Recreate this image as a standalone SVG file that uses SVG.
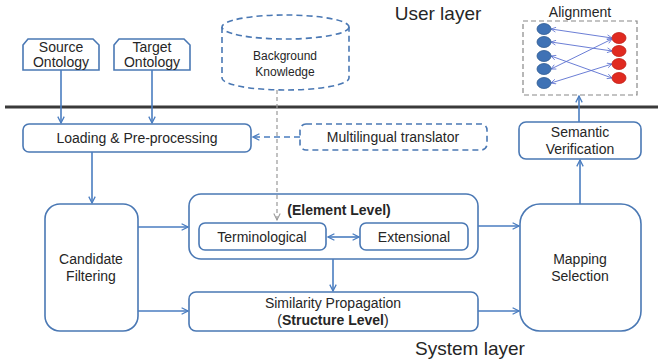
<svg xmlns="http://www.w3.org/2000/svg" width="658" height="361" viewBox="0 0 658 361">
<defs>
<style>
.box{fill:#fff;stroke:#4a78b4;stroke-width:1.6}
.dbox{fill:#fff;stroke:#4a78b4;stroke-width:1.6;stroke-dasharray:6 4}
.t{font-family:"Liberation Sans",Arial,sans-serif;font-size:14px;fill:#262626;text-anchor:middle}
.s{font-size:12px}
.b{font-weight:bold}
.big{font-size:19px}
.c{fill:none;stroke:#4a7dc0;stroke-width:1.6}
.cd{fill:none;stroke:#4a7dc0;stroke-width:1.6;stroke-dasharray:6 4}
.g{fill:none;stroke:#999;stroke-width:1.2;stroke-dasharray:4 3}
.al{fill:none;stroke:#5a6fd0;stroke-width:0.9}
</style>
<marker id="a" viewBox="0 0 10 10" refX="9" refY="5" markerWidth="8" markerHeight="8" orient="auto-start-reverse" markerUnits="userSpaceOnUse">
<polyline points="1,1 9,5 1,9" fill="none" stroke="#4a7dc0" stroke-width="1.6"/>
</marker>
<marker id="ag" viewBox="0 0 10 10" refX="9" refY="5" markerWidth="8" markerHeight="8" orient="auto" markerUnits="userSpaceOnUse">
<polyline points="1,1 9,5 1,9" fill="none" stroke="#999" stroke-width="1.3"/>
</marker>
<marker id="as" viewBox="0 0 10 10" refX="9" refY="5" markerWidth="6" markerHeight="6" orient="auto-start-reverse" markerUnits="userSpaceOnUse">
<polyline points="1,1 9,5 1,9" fill="none" stroke="#5a6fd0" stroke-width="1.3"/>
</marker>
</defs>

<line x1="5" y1="107" x2="658" y2="107" stroke="#3a3a3a" stroke-width="3"/>
<text class="t big" x="438" y="20">User layer</text>
<text class="t big" x="470" y="355">System layer</text>

<g id="source-ontology">
<path class="box" d="M28,39 L93,39 L99,45 L99,70 L23,70 L23,45 Z"/>
<text class="t" x="61" y="52">Source</text>
<text class="t" x="61" y="67">Ontology</text>
</g>

<g id="target-ontology">
<path class="box" d="M119,39 L184,39 L190,45 L190,70 L114,70 L114,45 Z"/>
<text class="t" x="152" y="52">Target</text>
<text class="t" x="152" y="67">Ontology</text>
</g>

<g id="background-knowledge">
<path class="dbox" d="M222,27 L222,78 A63.5,12 0 0 0 349,78 L349,27"/>
<ellipse class="dbox" cx="285.5" cy="27" rx="63.5" ry="12"/>
<text class="t s" x="285" y="60">Background</text>
<text class="t s" x="285" y="76">Knowledge</text>
</g>

<g id="alignment">
<text class="t" x="580" y="17">Alignment</text>
<rect x="523" y="21" width="114" height="74" fill="#fff" stroke="#888" stroke-width="1.2" stroke-dasharray="5 3"/>
<line class="al" x1="551" y1="29" x2="612" y2="38" marker-start="url(#as)" marker-end="url(#as)"/>
<line class="al" x1="551" y1="42" x2="612" y2="51" marker-start="url(#as)" marker-end="url(#as)"/>
<line class="al" x1="551" y1="56" x2="612" y2="78" marker-start="url(#as)" marker-end="url(#as)"/>
<line class="al" x1="551" y1="69" x2="612" y2="39" marker-start="url(#as)" marker-end="url(#as)"/>
<line class="al" x1="551" y1="83" x2="612" y2="64" marker-start="url(#as)" marker-end="url(#as)"/>
<g fill="#3f72b5" stroke="#2f5a90" stroke-width="0.8">
<ellipse cx="544" cy="29" rx="7" ry="5.5"/>
<ellipse cx="544" cy="42" rx="7" ry="5.5"/>
<ellipse cx="544" cy="56" rx="7" ry="5.5"/>
<ellipse cx="544" cy="69" rx="7" ry="5.5"/>
<ellipse cx="544" cy="83" rx="7" ry="5.5"/>
</g>
<g fill="#e02a20" stroke="#c02018" stroke-width="0.8">
<ellipse cx="619" cy="38" rx="7" ry="5.5"/>
<ellipse cx="619" cy="51" rx="7" ry="5.5"/>
<ellipse cx="619" cy="64" rx="7" ry="5.5"/>
<ellipse cx="619" cy="78" rx="7" ry="5.5"/>
</g>
</g>

<g id="loading">
<rect class="box" x="23" y="124" width="228" height="28" rx="6"/>
<text class="t" x="137" y="143">Loading &amp; Pre-processing</text>
</g>

<g id="multilingual-translator">
<rect class="dbox" x="300" y="124" width="187" height="26" rx="6"/>
<text class="t" x="393" y="142">Multilingual translator</text>
</g>

<g id="semantic-verification">
<rect class="box" x="519" y="122" width="122" height="37" rx="7"/>
<text class="t" x="580" y="137">Semantic</text>
<text class="t" x="580" y="154">Verification</text>
</g>

<g id="candidate-filtering">
<rect class="box" x="45" y="204" width="93" height="127" rx="15"/>
<text class="t" x="91" y="264">Candidate</text>
<text class="t" x="91" y="281">Filtering</text>
</g>

<g id="element-level">
<rect class="box" x="189" y="194" width="289" height="65" rx="12"/>
<text class="t b" x="339" y="215">(Element Level)</text>
</g>

<g id="terminological">
<rect class="box" x="199" y="223" width="127" height="27" rx="6"/>
<text class="t" x="262" y="242">Terminological</text>
</g>

<g id="extensional">
<rect class="box" x="360" y="223" width="108" height="27" rx="6"/>
<text class="t" x="414" y="242">Extensional</text>
</g>

<g id="similarity-propagation">
<rect class="box" x="189" y="292" width="289" height="39" rx="7"/>
<text class="t" x="333" y="308">Similarity Propagation</text>
<text class="t" x="333" y="325">(<tspan class="b">Structure Level</tspan>)</text>
</g>

<g id="mapping-selection">
<rect class="box" x="520" y="204" width="121" height="127" rx="20"/>
<text class="t" x="580" y="264">Mapping</text>
<text class="t" x="580" y="281">Selection</text>
</g>

<g id="connectors">
<line class="c" x1="61" y1="70" x2="61" y2="123" marker-end="url(#a)"/>
<line class="c" x1="152" y1="70" x2="152" y2="123" marker-end="url(#a)"/>
<line class="cd" x1="300" y1="137" x2="253" y2="137" marker-end="url(#a)"/>
<line class="g" x1="277" y1="90" x2="277" y2="220" marker-end="url(#ag)"/>
<line class="c" x1="92" y1="152" x2="92" y2="203" marker-end="url(#a)"/>
<line class="c" x1="138" y1="227" x2="188" y2="227" marker-end="url(#a)"/>
<line class="c" x1="138" y1="311" x2="188" y2="311" marker-end="url(#a)"/>
<line class="c" x1="328" y1="237" x2="359" y2="237" marker-start="url(#a)" marker-end="url(#a)"/>
<line class="c" x1="333" y1="259" x2="333" y2="291" marker-end="url(#a)"/>
<line class="c" x1="478" y1="226" x2="519" y2="226" marker-end="url(#a)"/>
<line class="c" x1="478" y1="311" x2="519" y2="311" marker-end="url(#a)"/>
<line class="c" x1="580" y1="204" x2="580" y2="160" marker-end="url(#a)"/>
<line class="c" x1="579" y1="122" x2="579" y2="96" marker-end="url(#a)"/>
</g>
</svg>
